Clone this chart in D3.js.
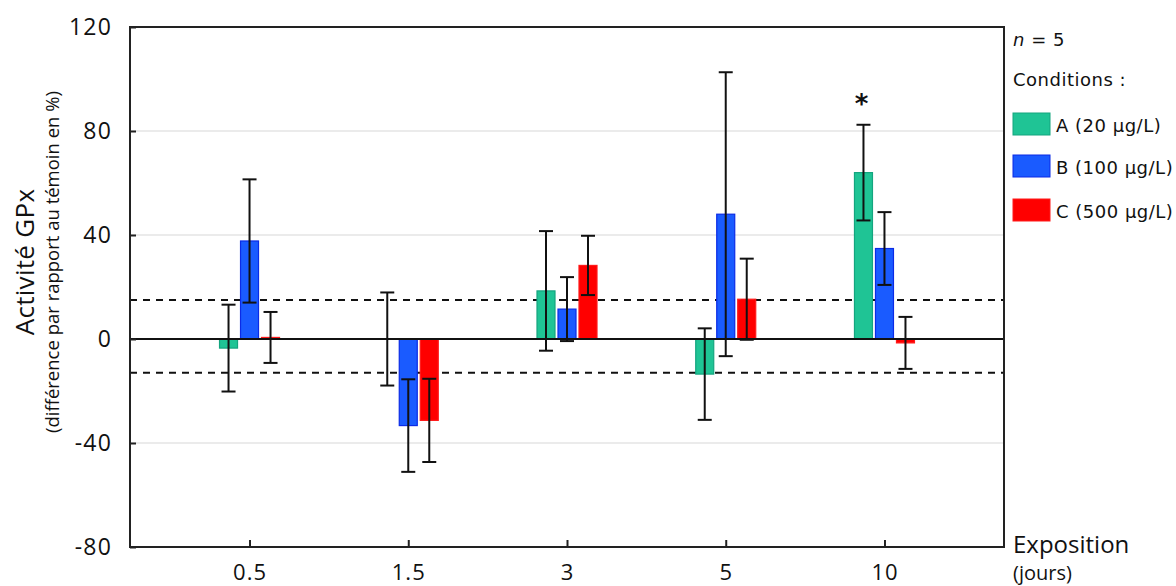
<!DOCTYPE html>
<html>
<head>
<meta charset="utf-8">
<script src="https://cdn.jsdelivr.net/npm/d3@7"></script>
<style>
  html, body { margin: 0; padding: 0; background: #fff; }
  svg { display: block; }
  text { fill: #111; }
</style>
</head>
<body>
<svg id="chart" width="1176" height="586"></svg>
<script>
// ---- Data ----
const categories = ["0.5", "1.5", "3", "5", "10"];
const seriesNames = ["A (20 µg/L)", "B (100 µg/L)", "C (500 µg/L)"];
const valuesA = [-3.5, 0, 18.5, -13.5, 64];
const errorsA = [16.7, 17.9, 23, 17.6, 18.4];
const valuesB = [37.7, -33.3, 11.5, 48, 34.8];
const errorsB = [23.7, 17.8, 12.3, 54.6, 14];
const valuesC = [0.6, -31.3, 28.3, 15.3, -1.5];
const errorsC = [9.8, 16, 11.4, 15.6, 10];
const yTicks = [120, 80, 40, 0, -40, -80];
const gridValues = [80, 40, -40];
const thresholds = [15, -13];
const significant = [{ series: 0, category: "10", label: "*" }];

const seriesValues = [valuesA, valuesB, valuesC];
const seriesErrors = [errorsA, errorsB, errorsC];
const fills = ["#1fc495", "#1a5bff", "#ff0000"];
const strokes = ["#14a57f", "#0b2be6", "#ff1a1a"];

// ---- Layout ----
const svg = d3.select("#chart");
const L = 130, R = 1004, T = 27, B = 547;

const x = d3.scalePoint().domain(categories).range([L, R]).padding(0.753);
const y = d3.scaleLinear().domain([-80, 120]).range([B, T]);
const barW = 18, barStep = 21;

// gridlines
svg.append("g").selectAll("line").data(gridValues).join("line")
  .attr("x1", L).attr("x2", R)
  .attr("y1", d => y(d)).attr("y2", d => y(d))
  .attr("stroke", "#e4e4e4").attr("stroke-width", 1.5);

// threshold dashed lines
svg.append("g").selectAll("line").data(thresholds).join("line")
  .attr("x1", L).attr("x2", R)
  .attr("y1", d => y(d)).attr("y2", d => y(d))
  .attr("stroke", "#111").attr("stroke-width", 2)
  .attr("stroke-dasharray", "7,6");

// bars
const flat = [];
seriesValues.forEach((vals, s) => vals.forEach((v, i) => {
  flat.push({ s, cat: categories[i], v, e: seriesErrors[s][i] });
}));
const cx = d => x(d.cat) + (d.s - 1) * barStep;

svg.append("g").selectAll("rect").data(flat.filter(d => d.v !== 0)).join("rect")
  .attr("x", d => cx(d) - barW / 2)
  .attr("width", barW)
  .attr("y", d => Math.min(y(d.v), y(0)))
  .attr("height", d => Math.abs(y(d.v) - y(0)))
  .attr("fill", d => fills[d.s])
  .attr("stroke", d => strokes[d.s])
  .attr("stroke-width", 1.2);

// zero line
svg.append("line")
  .attr("x1", L).attr("x2", R).attr("y1", y(0)).attr("y2", y(0))
  .attr("stroke", "#111").attr("stroke-width", 2.2);

// error bars
const eb = svg.append("g").attr("stroke", "#111").attr("stroke-width", 2);
const capW = 14;
flat.forEach(d => {
  const g = eb.append("g");
  g.append("line").attr("x1", cx(d)).attr("x2", cx(d))
    .attr("y1", y(d.v + d.e)).attr("y2", y(d.v - d.e));
  [d.v + d.e, d.v - d.e].forEach(t => {
    g.append("line").attr("x1", cx(d) - capW / 2).attr("x2", cx(d) + capW / 2)
      .attr("y1", y(t)).attr("y2", y(t));
  });
});

// significance marker
significant.forEach(m => {
  const d = flat.find(f => f.s === m.series && f.cat === m.category);
  svg.append("text")
    .attr("x", cx(d) - 2).attr("y", y(d.v + d.e) - 12)
    .attr("text-anchor", "middle")
    .attr("font-family", "DejaVu Sans, sans-serif")
    .attr("font-size", 26).attr("font-weight", "bold")
    .text(m.label);
});

// frame
svg.append("rect").attr("x", L).attr("y", T).attr("width", R - L).attr("height", B - T)
  .attr("fill", "none").attr("stroke", "#222").attr("stroke-width", 2);

// y axis
const yAxis = svg.append("g").attr("transform", `translate(${L},0)`)
  .call(d3.axisLeft(y).tickValues(yTicks).tickSize(-6).tickPadding(18).tickFormat(d => String(d)));
yAxis.select(".domain").remove();
yAxis.selectAll(".tick line").attr("stroke", "#222").attr("stroke-width", 2);
yAxis.selectAll(".tick text")
  .attr("font-family", "Open Sans, sans-serif").attr("font-size", 23)
  .attr("letter-spacing", 1.2).attr("fill", "#111");

// x axis
const xAxis = svg.append("g").attr("transform", `translate(0,${B})`)
  .call(d3.axisBottom(x).tickSize(-7).tickPadding(0));
xAxis.select(".domain").remove();
xAxis.selectAll(".tick line").attr("stroke", "#222").attr("stroke-width", 2);
xAxis.selectAll(".tick text")
  .attr("font-family", "Open Sans, sans-serif").attr("font-size", 22)
  .attr("letter-spacing", 1).attr("fill", "#111")
  .attr("dy", null).attr("y", 33);

// y title
const yt = svg.append("g").attr("transform", "translate(0,262) rotate(-90)");
yt.append("text").attr("x", 0).attr("y", 34).attr("text-anchor", "middle")
  .attr("font-family", "Open Sans, sans-serif").attr("font-size", 26)
  .attr("letter-spacing", 0.3)
  .text("Activité GPx");
yt.append("text").attr("x", 0).attr("y", 59).attr("text-anchor", "middle")
  .attr("font-family", "Open Sans, sans-serif").attr("font-size", 18.5)
  .text("(différence par rapport au témoin en %)");

// x title
svg.append("text").attr("x", 1013).attr("y", 553)
  .attr("font-family", "Open Sans, sans-serif").attr("font-size", 24).text("Exposition");
svg.append("text").attr("x", 1013).attr("y", 580)
  .attr("font-family", "Open Sans, sans-serif").attr("font-size", 20).text("(jours)");

// legend
const lg = svg.append("g").attr("font-family", "DejaVu Sans, sans-serif").attr("font-size", 18)
  .attr("letter-spacing", 0.5);
const nT = lg.append("text").attr("x", 1013).attr("y", 46);
nT.append("tspan").attr("font-style", "italic").text("n");
nT.append("tspan").text(" = 5");
lg.append("text").attr("x", 1013).attr("y", 86).text("Conditions :");
const swY = [113, 155, 199];
seriesNames.forEach((name, i) => {
  lg.append("rect").attr("x", 1013).attr("y", swY[i]).attr("width", 37).attr("height", 22)
    .attr("fill", fills[i]).attr("stroke", strokes[i]).attr("stroke-width", 1);
  lg.append("text").attr("x", 1056).attr("y", swY[i] + 19).text(name);
});
</script>
</body>
</html>
